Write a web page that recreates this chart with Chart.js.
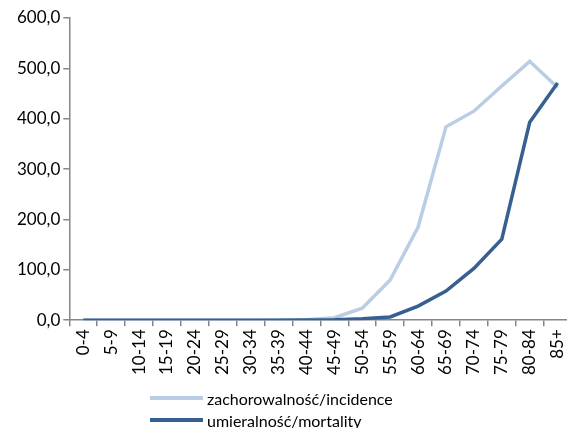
<!DOCTYPE html>
<html>
<head>
<meta charset="utf-8">
<script src="https://cdn.jsdelivr.net/npm/chart.js@4/dist/chart.umd.min.js"></script>
<style>
  html, body { margin: 0; padding: 0; background: #fff; overflow: hidden; }
  #wrap { position: relative; width: 567px; height: 428px; overflow: hidden; }
  #c { position: absolute; left: 0; top: 0; }
  #legend { position: absolute; left: 150px; top: 387px; font-family: Lato, sans-serif; font-size: 16px; color: #000; }
  .item { display: flex; align-items: center; height: 22px; }
  .swatch { width: 53px; height: 0; border-top-width: 4px; border-top-style: solid; margin-right: 4px; }
</style>
</head>
<body>
<div id="wrap">
  <canvas id="c" width="581" height="428"></canvas>
  <div id="legend"></div>
</div>
<script>
const categories = ["0-4","5-9","10-14","15-19","20-24","25-29","30-34","35-39","40-44","45-49","50-54","55-59","60-64","65-69","70-74","75-79","80-84","85+"];
const incidence = [0,0,0,0,0,0,0,0.3,1,5,24,80,185,384,415,465,514,462];
const mortality = [0,0,0,0,0,0,0,0,0.3,1,3,6.5,28,58,103,161,393,471];
const seriesNames = ["zachorowalność/incidence","umieralność/mortality"];
const yTicks = [0,100,200,300,400,500,600];

const axisColor = "#868686";
const font = { family: "Lato, sans-serif", size: 17 };

const chart = new Chart(document.getElementById("c"), {
  type: "line",
  data: {
    labels: categories,
    datasets: [
      { label: seriesNames[0], data: incidence, order: 1, borderColor: "#B9CDE5", backgroundColor: "#B9CDE5", borderWidth: 3.5, pointRadius: 0, tension: 0, fill: false },
      { label: seriesNames[1], data: mortality, order: 0, borderColor: "#376092", backgroundColor: "#376092", borderWidth: 3.5, pointRadius: 0, tension: 0, fill: false }
    ]
  },
  options: {
    responsive: false,
    animation: false,
    layout: { padding: { left: 14, top: 18, right: 0, bottom: 50 } },
    plugins: { legend: { display: false }, tooltip: { enabled: false } },
    scales: {
      x: {
        type: "category",
        offset: true,
        border: { color: axisColor, width: 1.5 },
        grid: { offset: true, drawOnChartArea: false, drawTicks: true, tickLength: 6, color: axisColor, lineWidth: 1.5 },
        ticks: { color: "#000", font: font, minRotation: 90, maxRotation: 90, autoSkip: false, padding: 3 }
      },
      y: {
        min: 0, max: 600,
        afterBuildTicks: (s) => { s.ticks = yTicks.map(v => ({ value: v })); },
        border: { color: axisColor, width: 1.5 },
        grid: { drawOnChartArea: false, drawTicks: true, tickLength: 6, color: axisColor, lineWidth: 1.5 },
        ticks: { color: "#000", font: font, padding: 3, callback: (v) => v.toFixed(1).replace(".", ",") }
      }
    }
  }
});

const legend = document.getElementById("legend");
chart.data.datasets.forEach(ds => {
  const item = document.createElement("div");
  item.className = "item";
  const sw = document.createElement("span");
  sw.className = "swatch";
  sw.style.borderTopColor = ds.borderColor;
  const tx = document.createElement("span");
  tx.textContent = ds.label;
  item.appendChild(sw);
  item.appendChild(tx);
  legend.appendChild(item);
});
</script>
</body>
</html>
